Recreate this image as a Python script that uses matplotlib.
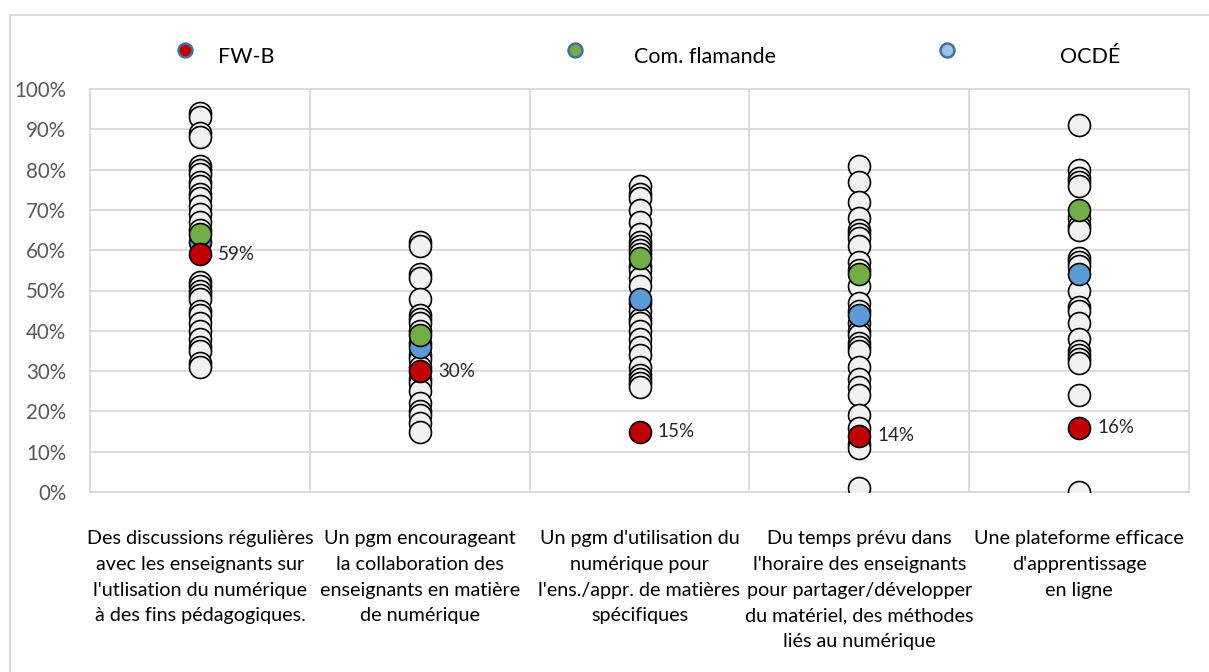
import matplotlib
matplotlib.use("Agg")
import matplotlib.pyplot as plt
from matplotlib.lines import Line2D
from matplotlib.patches import Rectangle
from matplotlib.ticker import PercentFormatter

plt.rcParams['font.family'] = ['Lato', 'DejaVu Sans']

categories = [
    "Des discussions régulières\navec les enseignants sur\nl'utlisation du numérique\nà des fins pédagogiques.",
    "Un pgm encourageant\nla collaboration des\nenseignants en matière\nde numérique",
    "Un pgm d'utilisation du\nnumérique pour\nl'ens./appr. de matières\nspécifiques",
    "Du temps prévu dans\nl'horaire des enseignants\npour partager/développer\ndu matériel, des méthodes\nliés au numérique",
    "Une plateforme efficace\nd'apprentissage\nen ligne",
]

others_1 = [94, 93, 89, 88, 81, 80, 79, 77, 76, 74, 73, 71, 69, 67, 65, 52, 51, 50, 49, 48, 45, 44, 42, 40, 38, 36, 35, 32, 31]
others_2 = [62, 61, 54, 53, 48, 44, 43, 42, 40, 37, 34, 33, 31, 28, 27, 25, 22, 20, 19, 17, 15]
others_3 = [76, 74, 73, 70, 67, 64, 62, 61, 60, 59, 56, 55, 53, 51, 47, 45, 43, 42, 40, 38, 36, 34, 31, 29, 28, 27, 26]
others_4 = [81, 77, 72, 68, 65, 64, 63, 61, 57, 55, 51, 47, 45, 42, 40, 39, 37, 36, 35, 31, 28, 26, 24, 19, 16, 12, 11, 1]
others_5 = [91, 80, 78, 77, 76, 68, 66, 65, 58, 57, 56, 50, 46, 45, 42, 38, 35, 34, 33, 32, 24, 0]
others = [others_1, others_2, others_3, others_4, others_5]

fwb = [59, 30, 15, 14, 16]
flamande = [64, 39, 58, 54, 70]
ocde = [62, 36, 48, 44, 54]

series_names = ["FW-B", "Com. flamande", "OCDÉ"]

W, H = 1209, 672
fig = plt.figure(figsize=(W / 100, H / 100), dpi=100)
ax = fig.add_axes([90 / W, 1 - 492 / H, (1189 - 90) / W, (492 - 89) / H])

grid_c = "#D9D9D9"
ms = 250
for i, vals in enumerate(others):
    ax.scatter([i] * len(vals), [v / 100 for v in vals], s=ms, c="#F2F2F2",
               edgecolors="black", linewidths=1.2, zorder=3)
ax.scatter(range(5), [v / 100 for v in ocde], s=ms, c="#5B9BD5", edgecolors="black", linewidths=1.2, zorder=4)
ax.scatter(range(5), [v / 100 for v in flamande], s=ms, c="#70AD47", edgecolors="black", linewidths=1.2, zorder=5)
ax.scatter(range(5), [v / 100 for v in fwb], s=ms, c="#C00000", edgecolors="black", linewidths=1.2, zorder=6)

for i, v in enumerate(fwb):
    ax.annotate(f"{v}%", (i, v / 100), xytext=(13, 0), textcoords="offset points",
                va="center", ha="left", fontsize=13.5, color="#262626", zorder=7)

ax.set_xlim(-0.5, 4.5)
ax.set_ylim(0, 1)
ax.set_yticks([i / 10 for i in range(11)])
ax.yaxis.set_major_formatter(PercentFormatter(1.0, decimals=0))
ax.tick_params(axis="y", length=0, pad=17, labelsize=14.8, labelcolor="#595959")
ax.set_xticks([0.5, 1.5, 2.5, 3.5])
ax.tick_params(axis="x", length=0, labelbottom=False)
ax.grid(True, color=grid_c, linewidth=1.3, zorder=0)
for s in ax.spines.values():
    s.set_color(grid_c)
    s.set_linewidth(1.3)

for i, lab in enumerate(categories):
    ax.text(i, -0.095, lab, ha="center", va="top", fontsize=14.2, color="black",
            linespacing=1.62, transform=ax.get_xaxis_transform())

# Legend
leg_fill = ["#C00000", "#70AD47", "#9DC3E6"]
leg_mx = [185, 575, 947]
leg_tx = [218, 634, 1060]
for name, fc, mx, tx in zip(series_names, leg_fill, leg_mx, leg_tx):
    fig.add_artist(Line2D([mx / W], [1 - 50 / H], marker="o", markersize=10,
                          markerfacecolor=fc, markeredgecolor="#41719C",
                          markeredgewidth=1.8, linestyle="none", transform=fig.transFigure))
    fig.text(tx / W, 1 - 57 / H, name, ha="left", va="center", fontsize=15.5, color="black")

fig.add_artist(Rectangle((10 / W, -0.1), 1.5, 1 - 15 / H + 0.1, transform=fig.transFigure,
                         fill=False, edgecolor=grid_c, linewidth=1.3))

fig.savefig("out.png", dpi=100)
